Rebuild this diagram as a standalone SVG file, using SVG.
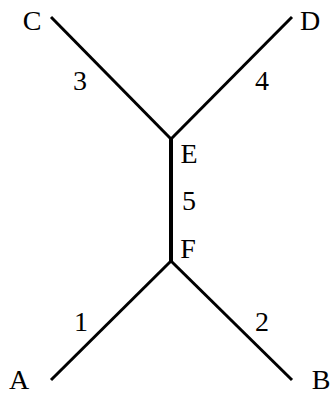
<svg xmlns="http://www.w3.org/2000/svg" width="335" height="394" viewBox="0 0 335 394">
<style>
.e{stroke:#000;stroke-width:3;fill:none;stroke-linecap:butt}
.t{stroke-width:4}
text{font-family:"Liberation Serif","DejaVu Serif",serif;font-size:28px;fill:#000}
.n{text-anchor:middle}
</style>
<rect width="335" height="394" fill="#fff"/>
<g id="connectors">
<line class="e" x1="51" y1="17" x2="171" y2="139"/>
<line class="e" x1="292" y1="17" x2="171" y2="139"/>
<line class="e t" x1="171" y1="139" x2="171" y2="261"/>
<line class="e" x1="171" y1="261" x2="51" y2="380"/>
<line class="e" x1="171" y1="261" x2="292" y2="380"/>
<text class="n" x="80" y="90">3</text>
<text class="n" x="262" y="90">4</text>
<text class="n" x="189" y="210">5</text>
<text class="n" x="81" y="331">1</text>
<text class="n" x="262" y="331">2</text>
</g>
<g id="C"><text class="n" x="32" y="30">C</text></g>
<g id="D"><text class="n" x="310" y="30">D</text></g>
<g id="E"><text class="n" x="189" y="163">E</text></g>
<g id="F"><text class="n" x="188" y="258">F</text></g>
<g id="A"><text class="n" x="19" y="389">A</text></g>
<g id="B"><text class="n" x="321" y="389">B</text></g>
</svg>
